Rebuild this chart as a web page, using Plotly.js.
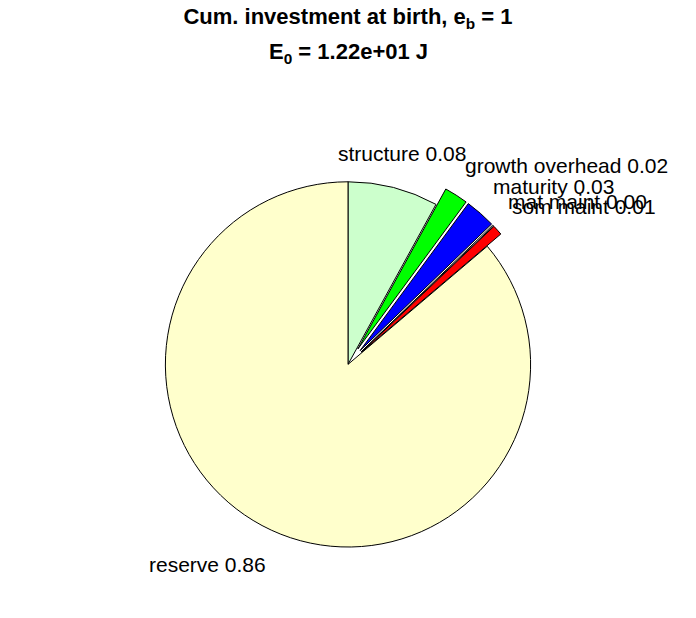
<!DOCTYPE html>
<html>
<head>
<meta charset="utf-8">
<script src="https://cdn.plot.ly/plotly-3.0.1.min.js"></script>
<style>html,body{margin:0;padding:0;background:#fff;}#chart{width:696px;height:618px;}</style>
</head>
<body>
<div id="chart"></div>
<script>
// ---- data ----
var categories = ["structure", "growth overhead", "maturity", "mat maint", "som maint", "reserve"];
var shares = [0.080, 0.021, 0.027, 0.001, 0.009, 0.862];
var explode = [0, 0.1, 0.1, 0.1, 0.1, 0];
var sliceColors = ["#ccffcc", "#00ff00", "#0000ff", "#ffffff", "#ff0000", "#ffffcc"];
var titleLine1 = "Cum. investment at birth, e<sub>b</sub> = 1";
var titleLine2 = "E<sub>0</sub> = 1.22e+01 J";

// ---- layout geometry ----
var W = 696, H = 618;
var dom = {x: [0.2108, 0.7892], y: [0.0853, 0.7354]};
var maxPull = Math.max.apply(null, explode);
var cx = (dom.x[0] + dom.x[1]) / 2 * W;
var cy = (1 - (dom.y[0] + dom.y[1]) / 2) * H;
var R = Math.min((dom.x[1] - dom.x[0]) * W, (dom.y[1] - dom.y[0]) * H) / 2 / (1 + maxPull);

var labelFont = {family: 'Liberation Sans, Arial, sans-serif', size: 21, color: '#000'};
var titleFont = {family: 'Liberation Sans, Arial, sans-serif', size: 22, color: '#000'};

var total = shares.reduce(function (a, b) { return a + b; }, 0);
var annotations = [];
var cum = 0;
for (var i = 0; i < shares.length; i++) {
  var mid = (cum + shares[i] / 2) / total;
  cum += shares[i];
  var th = 2 * Math.PI * mid;
  var s = Math.sin(th), c = Math.cos(th);
  var rr = R * (1.2 + explode[i]);
  var px = cx + rr * s;
  var py = cy - rr * c;
  var xanchor = 'center', shift = 0;
  if (s > 0.3) { xanchor = 'left'; shift = -13 - 8 * Math.max(0, s - 0.6); }
  else if (s < -0.3) { xanchor = 'right'; shift = 12; }
  annotations.push({
    text: categories[i] + " " + shares[i].toFixed(2),
    x: (px + shift) / W, y: 1 - (py + 1) / H,
    xref: 'paper', yref: 'paper', xanchor: xanchor, yanchor: 'middle',
    showarrow: false,
    font: labelFont
  });
}
annotations.push({
  text: "<b>" + titleLine2 + "</b>",
  x: 0.5, y: 1 - 37 / H, xref: 'paper', yref: 'paper', xanchor: 'center', yanchor: 'top',
  showarrow: false,
  font: titleFont
});

var trace = {
  type: 'pie',
  labels: categories,
  values: shares,
  sort: false,
  direction: 'clockwise',
  rotation: 0,
  pull: explode,
  domain: dom,
  textinfo: 'none',
  hoverinfo: 'none',
  showlegend: false,
  marker: {colors: sliceColors, line: {color: '#000', width: 1}}
};

var layout = {
  width: W, height: H,
  margin: {l: 0, r: 0, t: 0, b: 0},
  paper_bgcolor: '#fff',
  showlegend: false,
  title: {
    text: "<b>" + titleLine1 + "</b>",
    x: 0.5, xanchor: 'center', y: 1 - 9 / H, yanchor: 'top',
    font: titleFont
  },
  annotations: annotations
};

Plotly.newPlot('chart', [trace], layout, {staticPlot: true, displayModeBar: false});
</script>
</body>
</html>
